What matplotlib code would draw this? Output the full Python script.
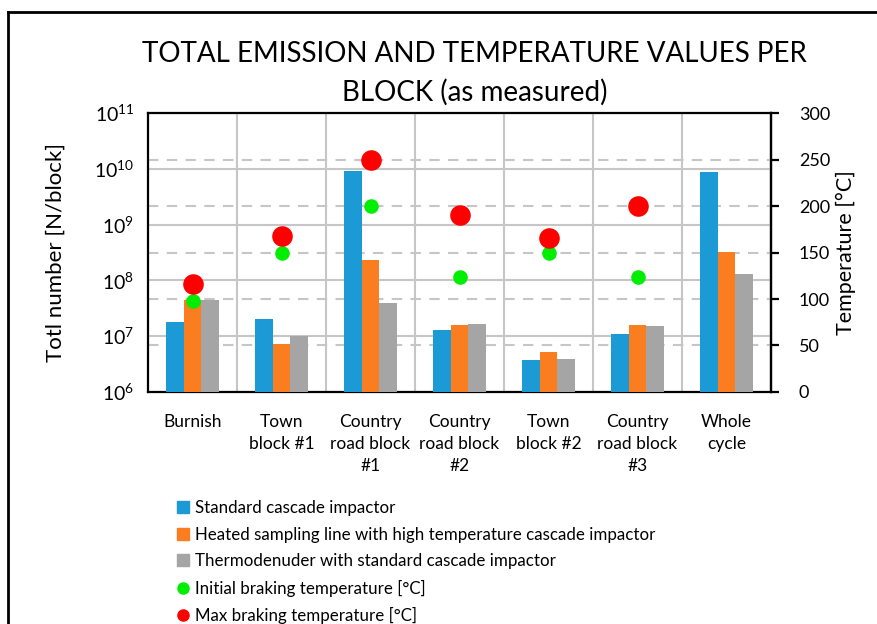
import matplotlib

matplotlib.use("Agg")
import matplotlib.pyplot as plt
import numpy as np
from matplotlib.lines import Line2D
from matplotlib.patches import Patch
from matplotlib.ticker import FixedLocator, FuncFormatter, NullLocator

plt.rcParams["font.family"] = ["Lato", "DejaVu Sans"]

blocks = [
    "Burnish",
    "Town\nblock #1",
    "Country\nroad block\n#1",
    "Country\nroad block\n#2",
    "Town\nblock #2",
    "Country\nroad block\n#3",
    "Whole\ncycle",
]
standard = [1.8e7, 2.0e7, 9.0e9, 1.28e7, 3.7e6, 1.1e7, 8.9e9]
heated = [4.4e7, 7.3e6, 2.35e8, 1.57e7, 5.2e6, 1.6e7, 3.2e8]
thermodenuder = [4.4e7, 1.0e7, 4.0e7, 1.65e7, 3.9e6, 1.5e7, 1.3e8]
initial_temp = [98, 150, 200, 124, 150, 124]
max_temp = [116, 168, 250, 190, 166, 200]

BLUE = "#1B9AD6"
ORANGE = "#FA7D20"
GRAY = "#A5A5A5"
RED = "#FF0000"
GREEN = "#00EE00"
GRID = "#C6C6C6"


def count_to_temp(y):
    # 5 decades of particle count span 0-300 degC on the right axis
    y = np.clip(np.asarray(y, dtype=float), 1e-300, None)
    return (np.log10(y) - 6) * 60


def temp_to_count(t):
    return 10 ** (6 + np.asarray(t, dtype=float) / 60)


fig = plt.figure(figsize=(8.77, 6.24), dpi=100)
ax = fig.add_axes([0.1688, 0.3718, 0.7104, 0.4471])

x = np.arange(len(blocks))
w = 0.2
ax.bar(x - w, standard, w, color=BLUE, zorder=3)
ax.bar(x, heated, w, color=ORANGE, zorder=3)
ax.bar(x + w, thermodenuder, w, color=GRAY, zorder=3)

xt = x[: len(max_temp)]
ax.scatter(xt, temp_to_count(initial_temp), s=110, color=GREEN, zorder=5, linewidths=0)
ax.scatter(xt, temp_to_count(max_temp), s=220, color=RED, zorder=6, linewidths=0)

ax.set_yscale("log")
ax.set_ylim(1e6, 1e11)
ax.set_xlim(-0.5, len(blocks) - 0.5)
ax.yaxis.set_major_locator(FixedLocator([10.0 ** k for k in range(6, 12)]))
ax.yaxis.set_minor_locator(NullLocator())
ax.yaxis.set_major_formatter(
    FuncFormatter(lambda v, p: r"$\mathregular{10^{%d}}$" % round(np.log10(v)))
)
ax.tick_params(axis="y", length=0, pad=10, labelsize=14)
ax.set_xticks(x)
ax.set_xticklabels(blocks, fontsize=12.5, linespacing=1.45)
ax.tick_params(axis="x", length=0, pad=16)

# solid grid for the count decades, dashed grid for the temperature ticks
ax.yaxis.grid(True, color=GRID, lw=1.5, zorder=0)
for t in range(50, 300, 50):
    ax.axhline(temp_to_count(t), color=GRID, lw=1.5, ls=(0, (5, 4)), zorder=1)
for k in range(1, len(blocks)):
    ax.axvline(k - 0.5, color=GRID, lw=1.5, zorder=1)

for s in ax.spines.values():
    s.set_linewidth(1.6)
    s.set_color("black")

ax.set_ylabel("Totl number [N/block]", fontsize=16, labelpad=20)

sec = ax.secondary_yaxis("right", functions=(count_to_temp, temp_to_count))
sec.yaxis.set_major_locator(FixedLocator(range(0, 301, 50)))
sec.yaxis.set_minor_locator(NullLocator())
sec.yaxis.set_major_formatter(FuncFormatter(lambda v, p: f"{v:.0f}"))
sec.tick_params(axis="y", direction="out", length=6, width=1.6, pad=14, labelsize=13)
sec.spines["right"].set_linewidth(1.6)
sec.set_ylabel("Temperature [°C]", fontsize=15.5, labelpad=4)

fig.suptitle(
    "TOTAL EMISSION AND TEMPERATURE VALUES PER\nBLOCK (as measured)",
    x=0.541, y=0.935, fontsize=20, linespacing=1.55,
)

handles = [
    Patch(color=BLUE, label="Standard cascade impactor"),
    Patch(color=ORANGE, label="Heated sampling line with high temperature cascade impactor"),
    Patch(color=GRAY, label="Thermodenuder with standard cascade impactor"),
    Line2D([], [], ls="", marker="o", ms=8, color=GREEN, label="Initial braking temperature [°C]"),
    Line2D([], [], ls="", marker="o", ms=8, color=RED, label="Max braking temperature [°C]"),
]
fig.legend(
    handles=handles, loc="upper left", bbox_to_anchor=(0.192, 0.212),
    frameon=False, fontsize=12.2, handlelength=0.7, handleheight=0.7,
    handletextpad=0.35, labelspacing=0.62, borderpad=0,
)

# outer frame (left and top edges)
fig.add_artist(Line2D([8 / 877, 8 / 877], [0, 1 - 12 / 624], color="black", lw=2))
fig.add_artist(Line2D([8 / 877, 1], [1 - 12 / 624, 1 - 12 / 624], color="black", lw=2))

fig.savefig("out.png", dpi=100)
